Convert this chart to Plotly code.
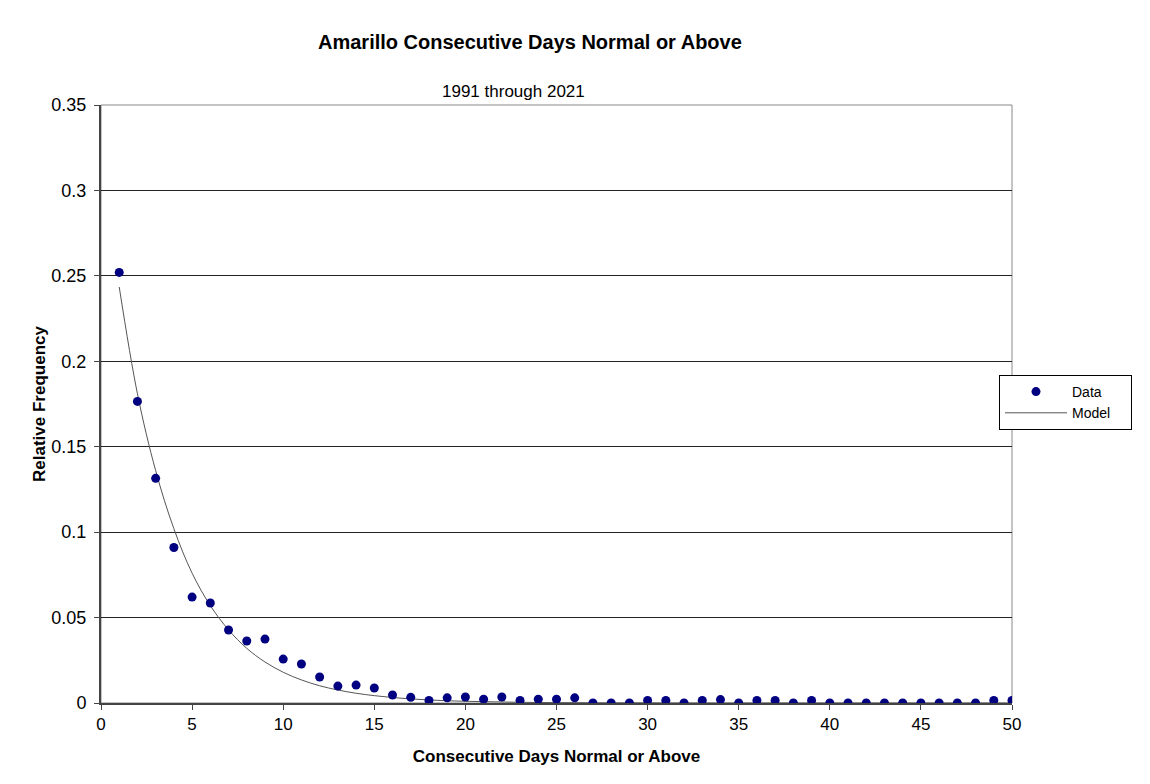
import plotly.graph_objects as go

days = list(range(1, 51))
data_freq = [0.252, 0.1765, 0.1315, 0.091, 0.062, 0.0585, 0.0427, 0.0363, 0.0374, 0.0257,
             0.0228, 0.0152, 0.0099, 0.0105, 0.0088, 0.0047, 0.0033, 0.0015, 0.003, 0.0035,
             0.0022, 0.0035, 0.0015, 0.0022, 0.0022, 0.003, 0.0, 0.0, 0.0, 0.0015,
             0.0015, 0.0, 0.0015, 0.002, 0.0, 0.0015, 0.0015, 0.0, 0.0015, 0.0,
             0.0, 0.0, 0.0, 0.0, 0.0, 0.0, 0.0, 0.0, 0.0015, 0.0015]
model_freq = [0.2435, 0.181, 0.136, 0.102, 0.076, 0.057, 0.0428, 0.032, 0.024, 0.018,
              0.0135, 0.0101, 0.0076, 0.0057, 0.0043, 0.0032, 0.0024, 0.0018, 0.0013, 0.001,
              0.0008, 0.0006, 0.0004, 0.0003, 0.0002, 0.0002, 0.0001, 0.0001, 0.0001, 0.0001,
              0.0, 0.0, 0.0, 0.0, 0.0, 0.0, 0.0, 0.0, 0.0, 0.0,
              0.0, 0.0, 0.0, 0.0, 0.0, 0.0, 0.0, 0.0, 0.0, 0.0]
x_ticks = [0, 5, 10, 15, 20, 25, 30, 35, 40, 45, 50]
y_ticks = [0, 0.05, 0.1, 0.15, 0.2, 0.25, 0.3, 0.35]
y_tick_labels = ["0", "0.05", "0.1", "0.15", "0.2", "0.25", "0.3", "0.35"]

FONT = "Liberation Sans, Arial, sans-serif"

# page body has an 8px margin: plot area target (screen) 101..1012 x, 105..703 y
L, T, PB, PR = 93, 97, 695, 1004
PH = PB - T
PAD = "\u00a0" * 4

fig = go.Figure()
fig.add_trace(go.Scatter(
    x=days, y=model_freq, mode="lines", name="Model" + PAD,
    line=dict(color="#555555", width=1, shape="spline"),
))
fig.add_trace(go.Scatter(
    x=days, y=data_freq, mode="markers", name="Data",
    marker=dict(color="#000080", size=9),
))

fig.update_layout(
    width=1150, height=784,
    paper_bgcolor="white", plot_bgcolor="white",
    margin=dict(l=L, r=1150 - PR, t=T, b=784 - PB),
    font=dict(family=FONT, size=16, color="black"),
    showlegend=True,
    legend=dict(
        x=(991 - L) / (PR - L), xanchor="left", y=(PB - 394.5) / PH, yanchor="middle",
        bordercolor="black", borderwidth=1, bgcolor="white",
        font=dict(size=14), traceorder="reversed",
        itemwidth=62, tracegroupgap=0,
    ),
)
fig.add_annotation(text="<b>Amarillo Consecutive Days Normal or Above</b>",
                   xref="paper", yref="paper", x=(522 - L) / (PR - L), y=(PB - 34) / PH,
                   showarrow=False, font=dict(size=20), xanchor="center", yanchor="middle")
fig.add_annotation(text="1991 through 2021",
                   xref="paper", yref="paper", x=(505 - L) / (PR - L), y=(PB - 84) / PH,
                   showarrow=False, font=dict(size=17), xanchor="center", yanchor="middle")

fig.update_xaxes(
    range=[0, 50], tickvals=x_ticks, showgrid=False, zeroline=False,
    showline=True, linecolor="#444444", linewidth=2, mirror=False,
    ticks="outside", ticklen=5, tickcolor="#444444", tickfont=dict(size=17),
    title=dict(text="<b>Consecutive Days Normal or Above</b>", font=dict(size=17), standoff=17),
)
fig.update_yaxes(
    range=[0, 0.35], tickvals=y_ticks, ticktext=y_tick_labels,
    showgrid=True, gridcolor="#222222", gridwidth=1, zeroline=False,
    showline=True, linecolor="#444444", linewidth=2,
    ticks="outside", ticklen=5, tickcolor="#444444", tickfont=dict(size=18),
    ticklabelstandoff=4,
    title=dict(text="<b>Relative Frequency</b>", font=dict(size=17), standoff=1),
)
# plot-area frame (top and right edges)
fig.add_shape(type="rect", xref="paper", yref="paper", x0=0, x1=1, y0=0, y1=1,
              line=dict(color="#888888", width=1), layer="below")

fig.write_html("out.html")
